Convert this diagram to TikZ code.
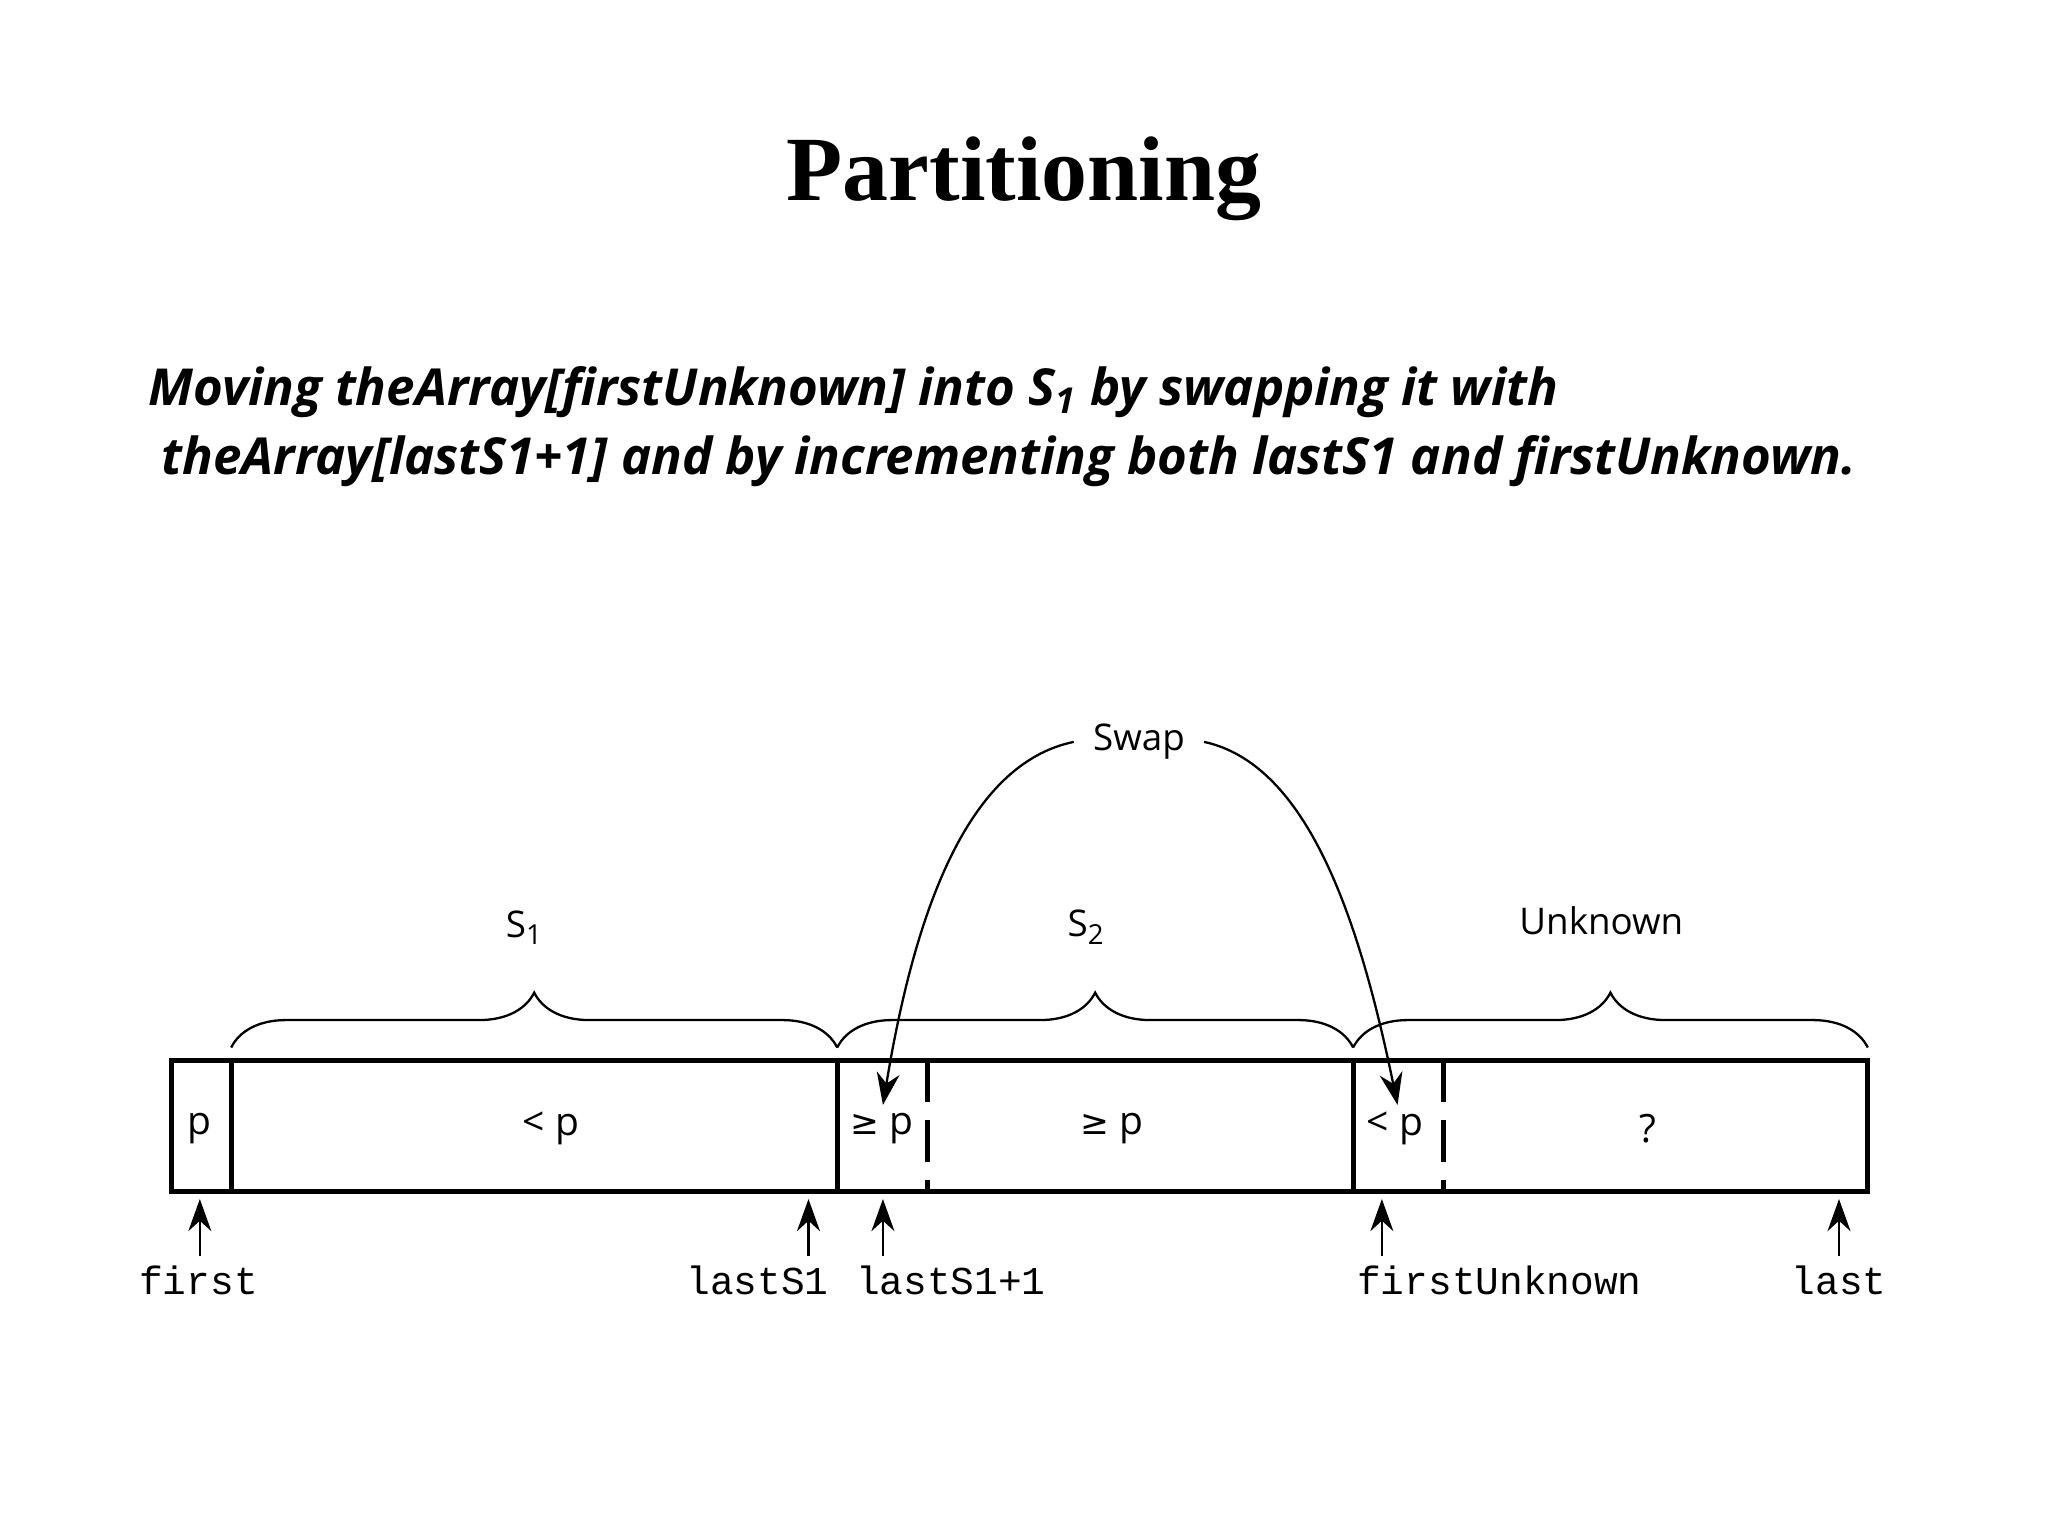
\documentclass[tikz,border=0pt]{standalone}
\usepackage{fontspec}
\setmainfont{Liberation Serif}
\newfontfamily\osans{Open Sans}
\newfontfamily\mono{Liberation Mono}
\newfontfamily\djfont{DejaVu Sans}
\usetikzlibrary{decorations.pathreplacing,arrows.meta}
\begin{document}
\begin{tikzpicture}[x=0.01cm,y=-0.01cm,
  cell/.style={font=\osans\fontsize{8.5pt}{10pt}\selectfont,inner sep=0},
  lbl/.style={font=\osans\fontsize{8pt}{10pt}\selectfont,inner sep=1pt},
  ptr/.style={font=\mono\fontsize{8.6pt}{10pt}\selectfont,inner sep=0},
  box/.style={line width=1.1pt},
  br/.style={decorate,decoration={brace,amplitude=0.42cm},line width=0.5pt},
  arr/.style={-{Stealth[length=7pt,width=5pt]},line width=0.5pt}]
\useasboundingbox (0,0) rectangle (1568,1176);
\node[font=\bfseries\fontsize{20pt}{24pt}\selectfont] (title) at (784,137) {Partitioning};
\node[anchor=west,font=\osans\bfseries\itshape\fontsize{11.1pt}{13pt}\selectfont,inner sep=0] (sub1) at (113,300) {Moving theArray[firstUnknown] into S\textsubscript{1} by swapping it with};
\node[anchor=west,font=\osans\bfseries\itshape\fontsize{11.1pt}{13pt}\selectfont,inner sep=0] (sub2) at (123,353) { theArray[lastS1+1] and by incrementing both lastS1 and firstUnknown.};
% array
\draw[box] (131,812) rectangle (1430,912);
\draw[box] (177,812) -- (177,912);
\draw[box] (641,812) -- (641,912);
\draw[box] (1036,812) -- (1036,912);
\draw[box,dash pattern=on 9pt off 4pt] (710,812) -- (710,912);
\draw[box,dash pattern=on 9pt off 4pt] (1105,812) -- (1105,912);
\node[cell] (c0) at (153,864) {p};
\node[cell] (c1) at (422,864) {< p};
\node[cell] (c2) at (675,864) {{\djfont\fontsize{7.5pt}{10pt}\selectfont ≥} p};
\node[cell] (c3) at (851,864) {{\djfont\fontsize{7.5pt}{10pt}\selectfont ≥} p};
\node[cell] (c4) at (1068,864) {< p};
\node[cell] (c5) at (1262,864) {?};
% braces
\draw[br] (177,802) -- (641,802);
\draw[br] (641,802) -- (1036,802);
\draw[br] (1036,802) -- (1430,802);
\node[lbl] (s1) at (402,710) {S\textsubscript{1}};
\node[lbl] (s2) at (832,710) {S\textsubscript{2}};
\node[lbl] (unk) at (1226,705) {Unknown};
% swap
\node[lbl,inner sep=4pt] (swap) at (872,568) {Swap};
\coordinate (t1) at (676,846);
\coordinate (t2) at (1070,846);
\draw[arr] (swap.west) .. controls (740,585) and (700,700) .. (t1);
\draw[arr] (swap.east) .. controls (1000,585) and (1040,700) .. (t2);
% pointers
\foreach \n/\x/\lx/\t in {pf/153/152/first, pl/619/580/lastS1, pl1/676/728/lastS1+1, pu/1058/1148/firstUnknown, pz/1408/1408/last}{
  \node[ptr] (\n) at (\lx,980) {\t};
  \coordinate (\n a) at (\x,962);
  \coordinate (\n b) at (\x,918);
  \draw[arr] (\n a) -- (\n b);
}
\end{tikzpicture}
\end{document}
